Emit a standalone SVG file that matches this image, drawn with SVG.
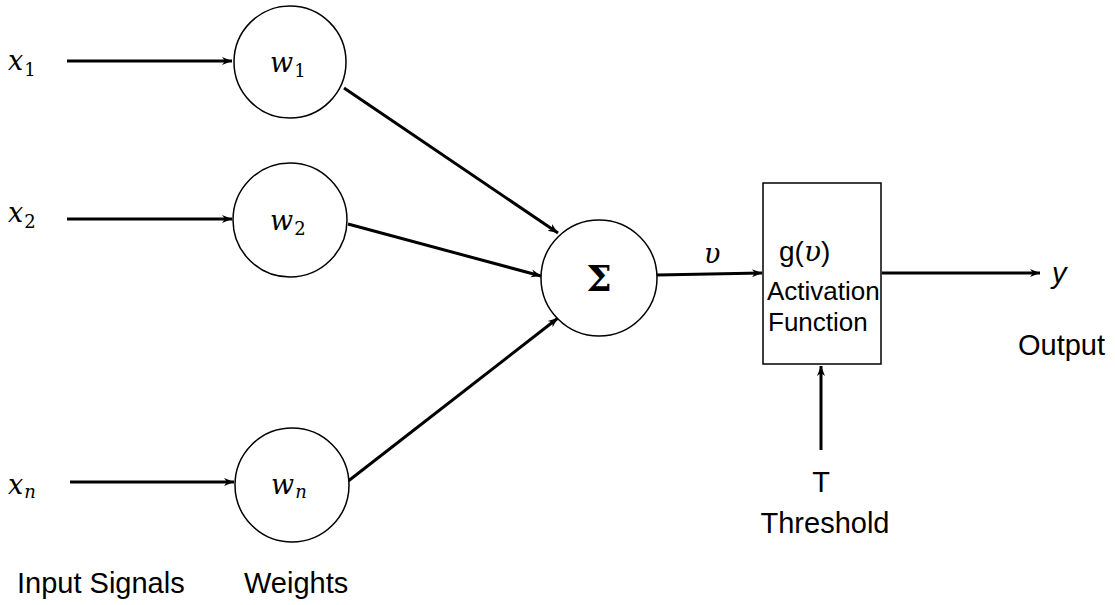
<svg xmlns="http://www.w3.org/2000/svg" width="1115" height="605" viewBox="0 0 1115 605">
<defs>
<marker id="ah" viewBox="0 0 10 10" refX="10" refY="5" markerWidth="10" markerHeight="10" markerUnits="userSpaceOnUse" orient="auto">
<path d="M0,1 L10,5 L0,9 L3,5 Z" fill="#000"/>
</marker>
<style>
.n{fill:#fff;stroke:#000;stroke-width:1.5}
.c{stroke:#000;stroke-width:3;fill:none;marker-end:url(#ah)}
.m{font-family:"DejaVu Serif","Liberation Serif",serif;font-style:italic;font-size:27px;fill:#000}
.s{font-style:normal;font-size:18px}
.si{font-size:18px}
.t{font-family:"Liberation Sans",Arial,sans-serif;font-size:29px;fill:#000}
.a{font-family:"Liberation Sans",Arial,sans-serif;font-size:26px;fill:#000}
</style>
</defs>
<rect width="1115" height="605" fill="#fff"/>
<g id="connectors">
<line class="c" x1="67" y1="61" x2="232" y2="61"/>
<line class="c" x1="67" y1="219" x2="232" y2="219"/>
<line class="c" x1="70" y1="482" x2="234" y2="482"/>
<line class="c" x1="344" y1="88" x2="558" y2="233"/>
<line class="c" x1="348" y1="224" x2="541" y2="276"/>
<line class="c" x1="347" y1="482" x2="558" y2="318"/>
<line class="c" x1="657" y1="275" x2="762" y2="273"/>
<line class="c" x1="882" y1="273" x2="1040" y2="273"/>
<line class="c" x1="821" y1="450" x2="821" y2="366"/>
</g>
<g id="x1"><text class="m" x="8" y="70">x<tspan class="s" dx="1" dy="6">1</tspan></text></g>
<g id="x2"><text class="m" x="8" y="222">x<tspan class="s" dx="1" dy="6">2</tspan></text></g>
<g id="xn"><text class="m" x="8" y="494">x<tspan class="si" dx="1" dy="4">n</tspan></text></g>
<g id="w1"><circle class="n" cx="290" cy="62" r="56"/><text class="m" x="270" y="72">w<tspan class="s" dx="1" dy="5">1</tspan></text></g>
<g id="w2"><circle class="n" cx="290" cy="220" r="57"/><text class="m" x="270" y="230">w<tspan class="s" dx="1" dy="5">2</tspan></text></g>
<g id="wn"><circle class="n" cx="292" cy="485" r="57"/><text class="m" x="271" y="494">w<tspan class="si" dx="1" dy="4">n</tspan></text></g>
<g id="sum"><circle class="n" cx="599" cy="278" r="58"/><text x="599" y="291" text-anchor="middle" font-family="'DejaVu Serif','Liberation Serif',serif" font-weight="bold" font-size="36">Σ</text></g>
<g id="v"><text class="m" x="704" y="263">υ</text></g>
<g id="activation"><rect x="763" y="183" width="118" height="181" fill="#fff" stroke="#000" stroke-width="1.5"/>
<text x="779" y="261" font-family="'Liberation Sans',Arial,sans-serif" font-size="28">g(<tspan font-family="'DejaVu Serif','Liberation Serif',serif" font-style="italic">υ</tspan>)</text>
<text class="a" x="767" y="300">Activation</text>
<text class="a" x="768" y="331">Function</text></g>
<g id="y"><text x="1052" y="283" font-family="'Liberation Sans',Arial,sans-serif" font-style="italic" font-size="29">y</text></g>
<g id="output"><text class="t" x="1018" y="355">Output</text></g>
<g id="threshold"><text class="t" x="821" y="492" text-anchor="middle">T</text><text class="t" x="825" y="533" text-anchor="middle">Threshold</text></g>
<g id="labels"><text class="t" x="17" y="593">Input Signals</text><text class="t" x="244" y="593">Weights</text></g>
</svg>
